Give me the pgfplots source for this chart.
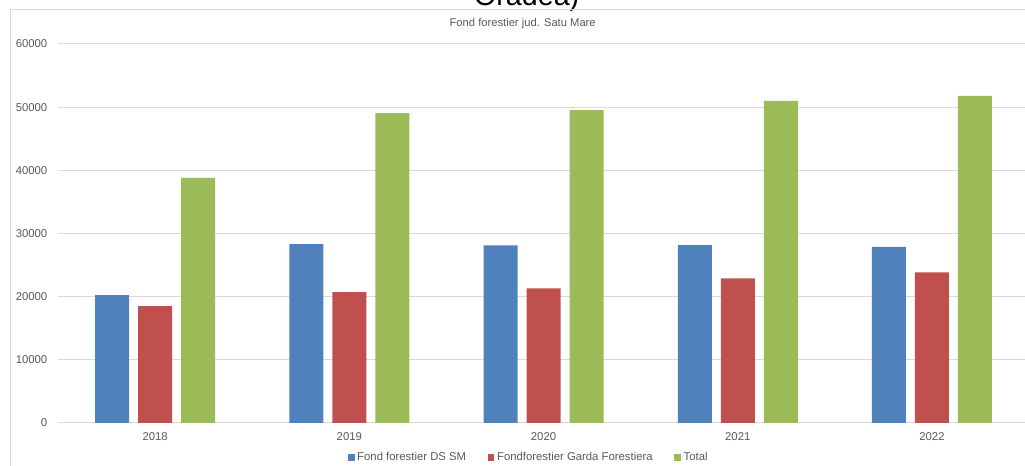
\documentclass[border=0pt]{standalone}
\usepackage{fontspec}
\setmainfont{Liberation Sans}
\usepackage{pgfplots}
\pgfplotsset{compat=1.18}
\definecolor{cblue}{HTML}{4F81BD}
\definecolor{cred}{HTML}{C0504D}
\definecolor{cgreen}{HTML}{9BBB59}
\definecolor{cgrid}{HTML}{D9D9D9}
\definecolor{ctext}{HTML}{595959}
\begin{document}
\begin{tikzpicture}
\useasboundingbox (0,0) rectangle (768.75pt,349.5pt);
\begin{scope}
\clip (0,0) rectangle (768.75pt,349.5pt);
\node[anchor=base,inner sep=0pt] at (395pt,345.6pt) {\fontsize{21.5}{21.5}\selectfont Oradea)};
\end{scope}
\draw[cgrid,line width=0.75pt] (7.5pt,0pt) -- (7.5pt,342pt) -- (770pt,342pt);
\begin{axis}[
  at={(43.5pt,32.25pt)}, anchor=south west,
  scale only axis, width=725.25pt, height=284.25pt,
  xmin=-0.5, xmax=4.479, ymin=0, ymax=60000,
  xtick={0,1,2,3,4}, xticklabels={2018,2019,2020,2021,2022},
  ytick={0,10000,20000,30000,40000,50000,60000},
  scaled y ticks=false,
  yticklabel style={/pgf/number format/1000 sep={}, xshift=-4.5pt},
  xticklabel style={yshift=-3.5pt},
  /pgf/number format/assume math mode=true,
  tick label style={font=\fontsize{8.5}{10}\selectfont, text=ctext},
  major tick length=0pt,
  axis line style={draw=none},
  ymajorgrids, grid style={cgrid, line width=0.75pt},
  ybar, bar width=25.5pt,
  legend style={draw=none, at={(0.487,-0.092)}, anchor=center,
    legend columns=3, font=\fontsize{8.5}{10}\selectfont, text=ctext,
    /tikz/every even column/.append style={column sep=14pt}},
  legend image code/.code={\fill[#1] (0pt,-2.6pt) rectangle (5.2pt,2.6pt);},
]
\addplot[fill=cblue, draw=none, bar shift=-32.25pt] coordinates {(0,20250) (1,28320) (2,28110) (3,28160) (4,27900)};
\addplot[fill=cred, draw=none, bar shift=0pt] coordinates {(0,18500) (1,20730) (2,21310) (3,22890) (4,23840)};
\addplot[fill=cgreen, draw=none, bar shift=32.25pt] coordinates {(0,38810) (1,49050) (2,49520) (3,51000) (4,51790)};
\legend{Fond forestier DS SM, Fondforestier Garda Forestiera, Total}
\end{axis}
\node[text=ctext, font=\fontsize{8.4}{10}\selectfont] at (392pt,331.5pt) {Fond forestier jud. Satu Mare};
\end{tikzpicture}
\end{document}
